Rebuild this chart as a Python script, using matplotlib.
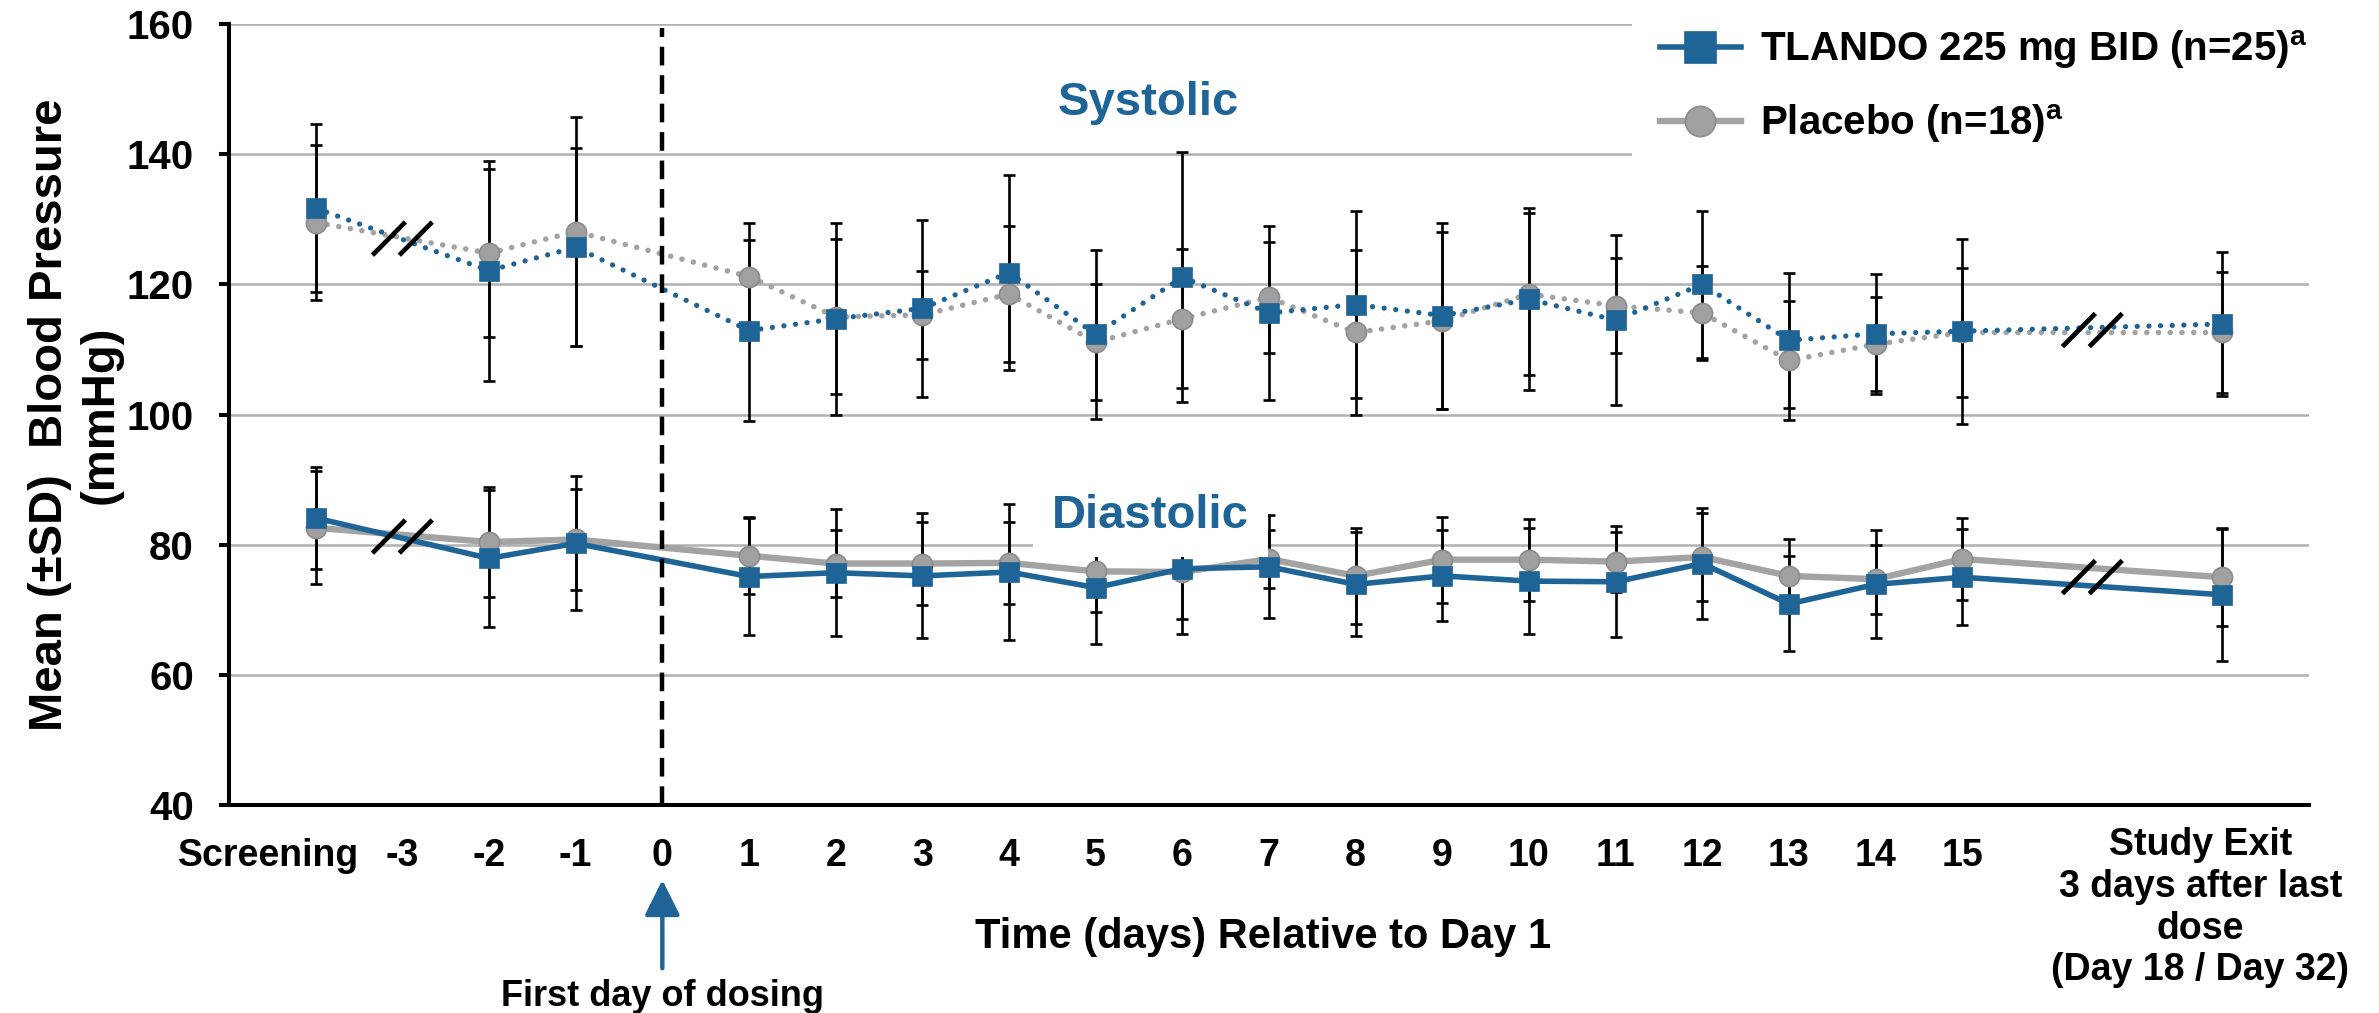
import numpy as np
import matplotlib
matplotlib.use('Agg')
import matplotlib.pyplot as plt
from matplotlib.transforms import ScaledTranslation

plt.rcParams['font.family'] = ['Liberation Sans', 'DejaVu Sans']
plt.rcParams['font.weight'] = 'bold'
plt.rcParams['axes.labelweight'] = 'bold'
plt.rcParams['mathtext.fontset'] = 'custom'
plt.rcParams['mathtext.rm'] = 'Liberation Sans:bold'
plt.rcParams['mathtext.it'] = 'Liberation Sans:bold'
plt.rcParams['mathtext.bf'] = 'Liberation Sans:bold'

BLUE = '#1F6497'
GREY = '#A3A3A3'

# screening is drawn at -4, study exit at 18
days = [-4, -2, -1, 1, 2, 3, 4, 5, 6, 7, 8, 9, 10, 11, 12, 13, 14, 15, 18]
tick_pos = [-4, -3, -2, -1, 0, 1, 2, 3, 4, 5, 6, 7, 8, 9, 10, 11, 12, 13, 14, 15, 18]
tick_labels = ['Screening', '-3', '-2', '-1', '0', '1', '2', '3', '4', '5', '6', '7',
               '8', '9', '10', '11', '12', '13', '14', '15',
               'Study Exit\n3 days after last\ndose\n(Day 18 / Day 32)']
break_pos = [-3, 16.5]

sys_tlando = [131.7, 122.1, 125.7, 112.9, 114.7, 116.3, 121.8, 112.3, 121.1, 115.6,
              116.9, 115.2, 117.7, 114.5, 120.0, 111.4, 112.4, 112.8, 113.9]
sys_tlando_sd = [12.9, 16.9, 15.2, 13.9, 14.8, 13.6, 15.0, 13.0, 19.2, 13.4,
                 14.4, 14.3, 14.0, 13.1, 11.3, 10.4, 9.2, 14.2, 11.0]
sys_plac = [129.5, 124.8, 128.1, 121.2, 115.0, 115.3, 118.5, 111.1, 114.7, 118.0,
            112.6, 114.4, 118.5, 116.7, 115.6, 108.3, 110.8, 112.6, 112.6]
sys_plac_sd = [11.9, 12.9, 17.6, 8.3, 11.9, 6.7, 10.5, 8.9, 10.7, 8.5,
               12.7, 13.6, 12.4, 7.3, 7.2, 9.2, 7.2, 9.9, 9.3]

dia_tlando = [84.1, 77.9, 80.2, 75.1, 75.7, 75.2, 75.8, 73.4, 76.3, 76.6,
              73.9, 75.2, 74.4, 74.3, 77.1, 70.9, 73.9, 75.0, 72.3]
dia_tlando_sd = [7.9, 10.5, 10.3, 9.0, 9.8, 9.6, 10.4, 8.7, 10.1, 7.9,
                 8.0, 7.0, 8.2, 8.5, 8.5, 7.3, 8.3, 7.4, 10.1]
dia_plac = [82.6, 80.4, 80.8, 78.3, 77.1, 77.1, 77.2, 75.9, 75.8, 77.8,
            75.2, 77.7, 77.7, 77.4, 78.1, 75.2, 74.7, 77.8, 75.0]
dia_plac_sd = [8.7, 8.4, 7.8, 5.9, 5.1, 6.4, 6.3, 6.2, 7.2, 4.5,
               7.4, 6.6, 6.3, 4.6, 6.8, 5.6, 5.3, 6.3, 7.5]

fig = plt.figure(figsize=(23.79, 10.13), dpi=100)
ax = fig.add_axes([229 / 2379, 1 - 805 / 1013, 2080 / 2379, 781 / 1013])
ax.set_xlim(-5, 19)
ax.set_ylim(40, 160)
ax.set_yticks(range(40, 161, 20))
ax.grid(axis='y', color='#B0B0B0', lw=1.8)
ax.set_axisbelow(True)

for m, sd in [(sys_tlando, sys_tlando_sd), (sys_plac, sys_plac_sd),
              (dia_tlando, dia_tlando_sd), (dia_plac, dia_plac_sd)]:
    ax.errorbar(days, m, yerr=sd, fmt='none', ecolor='black', elinewidth=1.9,
                capsize=4.3, capthick=1.9, zorder=2)

ax.plot(days, sys_plac, color=GREY, lw=4, ls=(0, (0.01, 2.1)), dash_capstyle='round',
        marker='o', ms=14.5, mfc='#A0A0A0', mec='#8C8C8C', mew=1.2, zorder=3)
ax.plot(days, sys_tlando, color=BLUE, lw=3.8, ls=(0, (0.01, 2.2)), dash_capstyle='round',
        marker='s', ms=15, mfc=BLUE, mec=BLUE, mew=0.5, zorder=4)
pl_line, = ax.plot(days, dia_plac, color=GREY, lw=4.6, marker='o', ms=14.5,
                   mfc='#A0A0A0', mec='#8C8C8C', mew=1.2, zorder=3)
tl_line, = ax.plot(days, dia_tlando, color=BLUE, lw=4, marker='s', ms=15,
                   mfc=BLUE, mec=BLUE, mew=0.5, zorder=4)

# axis break marks sitting on the lines
for bx in break_pos:
    for a, b in [(sys_tlando, sys_plac), (dia_tlando, dia_plac)]:
        by = (np.interp(bx, days, a) + np.interp(bx, days, b)) / 2
        for off in (-0.155, 0.155):
            ax.plot([bx + off - 0.19, bx + off + 0.19], [by - 2.55, by + 2.55],
                    color='black', lw=3.4, zorder=6, solid_capstyle='butt')

ax.axvline(0, ymax=0.995, color='black', lw=3.2, ls=(0, (4.2, 2.2)), zorder=5)

ax.text(5.61, 146.0, 'Systolic', color=BLUE, fontsize=34, ha='center', va='baseline')
ax.text(5.63, 82.55, 'Diastolic', color=BLUE, fontsize=34, ha='center', va='baseline',
        bbox=dict(boxstyle='square,pad=0.4', fc='white', ec='none'), zorder=7)

for s in ['top', 'right']:
    ax.spines[s].set_visible(False)
for s in ['left', 'bottom']:
    ax.spines[s].set_linewidth(2.9)

ax.set_xticks(tick_pos)
ax.set_xticklabels(tick_labels, fontsize=27)
ax.tick_params(axis='x', length=0, pad=24)
ax.tick_params(axis='y', length=7.2, width=2.9, pad=18, labelsize=29)
xl = ax.get_xticklabels()
xl[0].set_transform(xl[0].get_transform() + ScaledTranslation(-0.47, 0, fig.dpi_scale_trans))
xl[-1].set_transform(xl[-1].get_transform() + ScaledTranslation(-0.22, 0.11, fig.dpi_scale_trans))

ax.set_ylabel('Mean (±SD)  Blood Pressure\n(mmHg)', fontsize=34, fontweight='bold')
ax.yaxis.set_label_coords(-0.051, 0.5)

fig.text(1263 / 2379, 1 - 948 / 1013, 'Time (days) Relative to Day 1',
         ha='center', va='baseline', fontsize=30)

xt = ax.get_xaxis_transform()
ax.annotate('', xy=(0, -0.096), xytext=(0, -0.209), xycoords=xt, textcoords=xt,
            arrowprops=dict(arrowstyle='-|>,head_length=1.08,head_width=0.54',
                            color=BLUE, lw=3.2, mutation_scale=20, shrinkA=0, shrinkB=0),
            annotation_clip=False)
ax.text(0, -0.258, 'First day of dosing', transform=xt, ha='center', va='baseline',
        fontsize=26, clip_on=False)

leg = fig.legend([tl_line, pl_line],
                 ['TLANDO 225 mg BID (n=25)$^{\\rm a}$', 'Placebo (n=18)$^{\\rm a}$'],
                 loc='upper left', bbox_to_anchor=(1632 / 2379, 1.0), fontsize=29,
                 frameon=True, fancybox=False, borderpad=0.7, borderaxespad=0,
                 handlelength=2.0, handletextpad=0.48, labelspacing=0.77, markerscale=1.5)
leg.get_frame().set_facecolor('white')
leg.get_frame().set_edgecolor('none')
leg.get_frame().set_alpha(1)

fig.savefig('out.png', dpi=100)
